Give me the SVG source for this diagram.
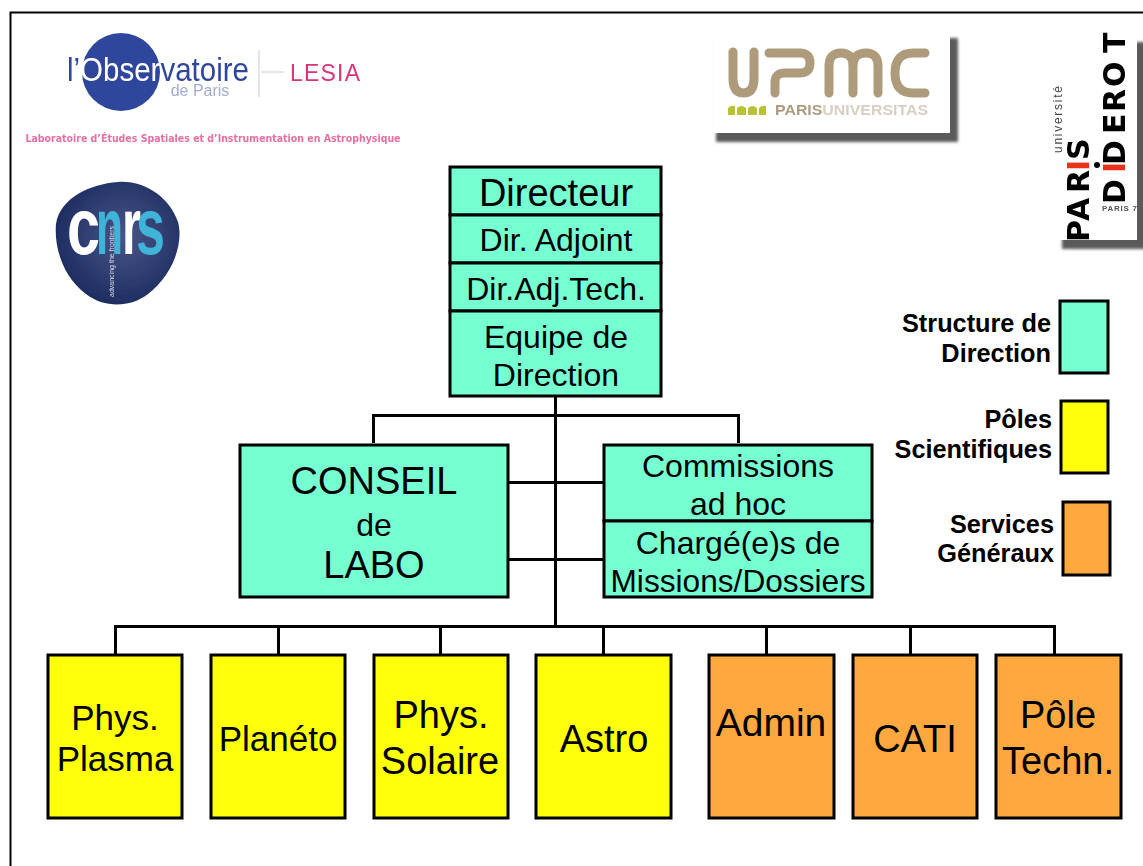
<svg xmlns="http://www.w3.org/2000/svg" width="1143" height="866" viewBox="0 0 1143 866">
<defs>
<style>
text{font-family:"Liberation Sans",Arial,sans-serif;fill:#000;text-anchor:middle}
.b{stroke:#000;stroke-width:3}
.t{fill:#76ffd1}.y{fill:#ffff0a}.o{fill:#ffa840}
.c{fill:none;stroke:#000;stroke-width:3}
.l{font-weight:bold;font-size:25.300px;text-anchor:end}
.g{font-size:32px}.f{font-size:35px}.h{font-size:38px}
.st{text-anchor:start}
.dd{font-family:"DejaVu Sans",sans-serif;font-size:30px;font-weight:bold}
.cn{font-size:80px;font-weight:bold}
.s{fill:#5a5a5a;filter:url(#bl)}
.soft{filter:url(#sf)}
.up{fill:none;stroke:#ad9b7c;stroke-width:9;stroke-linecap:round;stroke-linejoin:round}
</style>
<filter id="bl" x="-10%" y="-10%" width="120%" height="120%"><feGaussianBlur stdDeviation="1.800"/></filter>
<filter id="sf" x="-5%" y="-5%" width="110%" height="110%"><feGaussianBlur stdDeviation="0.500"/></filter>
<radialGradient id="cn" cx="55%" cy="45%" r="60%"><stop offset="0" stop-color="#4a5588"/><stop offset="1" stop-color="#1a2a5e"/></radialGradient>
</defs>
<rect width="1143" height="866" fill="#fff"/>
<path d="M10.500 866V12.500H1143" fill="none" stroke="#000" stroke-width="2"/>

<g id="logo-observatoire" class="soft">
<circle cx="121" cy="72" r="39" fill="#2f479d"/>
<text x="67" y="81" class="st" style="font-size:34px;fill:#2f479d" textLength="182" lengthAdjust="spacingAndGlyphs">l’<tspan fill="#fff">Obser</tspan>vatoire</text>
<text x="200" y="96" style="font-size:16px;fill:#a4abd0">de Paris</text>
<path d="M259 50V97M261 72H284" stroke="#ccc" stroke-width="1" fill="none"/>
<text x="290" y="81" class="st" style="font-size:23px;fill:#d8347a" textLength="70">LESIA</text>
<text x="213" y="142" style="font-size:10.500px;fill:#e76fa2;font-family:'DejaVu Sans',sans-serif;font-weight:bold" textLength="375" lengthAdjust="spacingAndGlyphs">Laboratoire d’Études Spatiales et d’Instrumentation en Astrophysique</text>
</g>

<g id="logo-cnrs" class="soft">
<path d="M118 182C145 180 170 198 178 222C184 244 172 276 148 294C130 308 104 308 86 294C62 276 54 246 56 224C60 198 90 184 118 182Z" fill="url(#cn)"/>
<text x="67" y="254" class="st cn" style="fill:#fff" textLength="33" lengthAdjust="spacingAndGlyphs">c</text>
<text x="96" y="254" class="st cn" style="fill:#3fb4d8" textLength="27" lengthAdjust="spacingAndGlyphs">n</text>
<text x="122" y="254" class="st cn" style="fill:#fff" textLength="19" lengthAdjust="spacingAndGlyphs">r</text>
<text x="136" y="254" class="st cn" style="fill:#3fb4d8" textLength="29" lengthAdjust="spacingAndGlyphs">s</text>
<text transform="translate(114,297) rotate(-90)" class="st" style="font-size:8px;fill:#d8dcea" textLength="71" lengthAdjust="spacingAndGlyphs">advancing the frontiers</text>
</g>

<g id="logo-upmc" class="soft">
<rect x="716" y="38" width="242" height="104" class="s"/>
<rect x="714" y="34" width="236" height="99" fill="#fff"/>
<path class="up" d="M733 52V78Q733 93 743.500 93Q754 93 754 78V52M769 53H800Q810 53 810 63Q810 73 800 73H785Q775 73 775 82V93M829 93V66Q829 53 841 53Q853 53 853 66V93M853 66Q853 53 866 53Q878 53 878 66V93M925 53H913Q895 53 895 73Q895 93 913 93H925"/>
<path fill="#b9c233" d="M728 115V108Q731 105 735 106V115ZM737 115V108Q741 104 746 108V115ZM748 115V108Q752 104 757 108V115ZM759 115V108Q762 105 766 106V115Z"/>
<text x="775" y="115" class="st" style="font-size:14px;font-weight:bold;fill:#ad9b7c" textLength="153" lengthAdjust="spacingAndGlyphs">PARIS<tspan fill="#d8cfc2">UNIVERSITAS</tspan></text>
</g>

<g id="logo-diderot" class="soft">
<rect x="1062" y="42" width="90" height="207" class="s"/>
<rect x="1040" y="14" width="97" height="226" fill="#fff"/>
<text transform="translate(1089,242) rotate(-90)" class="st dd" x="0 21 49 71 82">PAR<tspan fill="#e8301f">I</tspan>S</text>
<text transform="translate(1125,202) rotate(-90)" class="st dd" x="-2 29 37 68 90 115 149">D<tspan fill="#e8301f">I</tspan>DEROT</text>
<circle cx="1097" cy="165" r="3" fill="#000"/>
<text transform="translate(1062,153) rotate(-90)" class="st" style="font-size:12px;fill:#444" textLength="67">université</text>
<text x="1102" y="211" class="st" style="font-size:8px;font-weight:bold;fill:#555" textLength="35">PARIS 7</text>
</g>

<g id="connectors">
<path class="c" d="M555.500 397V627M373.500 443V415.500H738.500V443M508 482.500H603M508 559.500H603M115.500 655V626.500H1054.500V655M278.500 627V655M440.500 627V655M603.500 627V655M766.500 627V655M910.500 627V655"/>
</g>

<g id="directeur"><rect x="450" y="167" width="211" height="48" class="b t"/><text x="556" y="206" class="h">Directeur</text></g>
<g id="dir-adjoint"><rect x="450" y="215" width="211" height="48" class="b t"/><text x="556" y="251" class="g">Dir. Adjoint</text></g>
<g id="dir-adj-tech"><rect x="450" y="263" width="211" height="48" class="b t"/><text x="556" y="300" class="g">Dir.Adj.Tech.</text></g>
<g id="equipe"><rect x="450" y="311" width="211" height="85" class="b t"/><text x="556" y="348" class="g">Equipe de</text><text x="556" y="386" class="g">Direction</text></g>
<g id="conseil"><rect x="240" y="445" width="268" height="152" class="b t"/><text x="374" y="494" class="h">CONSEIL</text><text x="374" y="536" class="g">de</text><text x="374" y="578" class="h">LABO</text></g>
<g id="commissions"><rect x="604" y="445" width="268" height="76" class="b t"/><text x="738" y="477" class="g">Commissions</text><text x="738" y="515" class="g">ad hoc</text></g>
<g id="charges"><rect x="604" y="521" width="268" height="76" class="b t"/><text x="738" y="554" class="g">Chargé(e)s de</text><text x="738" y="592" class="g" textLength="255" lengthAdjust="spacingAndGlyphs">Missions/Dossiers</text></g>

<g id="phys-plasma"><rect x="48" y="655" width="134" height="163" class="b y"/><text x="115" y="730" class="f">Phys.</text><text x="115" y="771" class="f">Plasma</text></g>
<g id="planeto"><rect x="211" y="655" width="134" height="163" class="b y"/><text x="278" y="751" class="f">Planéto</text></g>
<g id="phys-solaire"><rect x="374" y="655" width="134" height="163" class="b y"/><text x="441" y="728" class="h">Phys.</text><text x="440" y="774" class="h">Solaire</text></g>
<g id="astro"><rect x="536" y="655" width="135" height="163" class="b y"/><text x="604" y="752" class="h">Astro</text></g>
<g id="admin"><rect x="709" y="655" width="125" height="163" class="b o"/><text x="771" y="736" class="h" style="font-size:39px">Admin</text></g>
<g id="cati"><rect x="853" y="655" width="124" height="163" class="b o"/><text x="915" y="752" class="h">CATI</text></g>
<g id="pole-techn"><rect x="996" y="655" width="125" height="163" class="b o"/><text x="1058" y="728" class="h">Pôle</text><text x="1058" y="774" class="h">Techn.</text></g>

<g id="legend-direction"><rect x="1060" y="301" width="48" height="72" class="b t"/><text x="1051" y="332" class="l">Structure de</text><text x="1051" y="362" class="l">Direction</text></g>
<g id="legend-poles"><rect x="1061" y="401" width="47" height="72" class="b y"/><text x="1052" y="428" class="l">Pôles</text><text x="1052" y="458" class="l">Scientifiques</text></g>
<g id="legend-services"><rect x="1063" y="502" width="47" height="73" class="b o"/><text x="1054" y="533" class="l">Services</text><text x="1054" y="562" class="l">Généraux</text></g>
</svg>
